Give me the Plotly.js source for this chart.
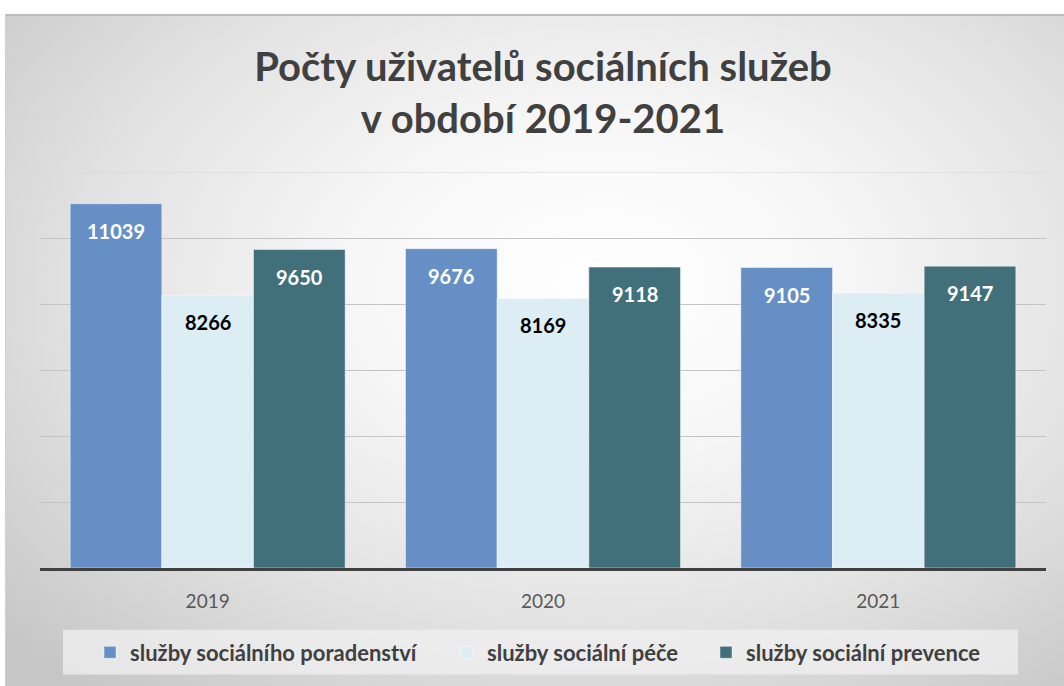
<!DOCTYPE html>
<html>
<head>
<meta charset="utf-8">
<script src="https://cdn.plot.ly/plotly-3.0.1.min.js"></script>
<style>
  html, body { margin:0; padding:0; background:#ffffff; }
  #wrap { position:relative; width:1064px; height:686px; overflow:hidden; }
  #bg { position:absolute; left:5px; top:14px; right:0; bottom:0;
        border-top:2px solid #bdbdbd; border-left:1px solid #cfcfcf;
        background: radial-gradient(ellipse 75% 80% at 56% 40%, #ffffff 0%, #f7f7f7 30%, #e2e2e2 65%, #c6c6c6 100%); }
  #chart { position:absolute; left:0; top:0; width:1064px; height:686px; }
</style>
</head>
<body>
<div id="wrap">
  <div id="bg"></div>
  <div id="chart"></div>
</div>
<script>
const categories = ["2019", "2020", "2021"];
const seriesNames = ["služby sociálního poradenství", "služby sociální péče", "služby sociální prevence"];
const poradenstvi = [11039, 9676, 9105];
const pece = [8266, 8169, 8335];
const prevence = [9650, 9118, 9147];

const seriesValues = [poradenstvi, pece, prevence];
const colors = ["#6690c5", "#dcedf3", "#41707b"];
const labelColors = ["#ffffff", "#000000", "#ffffff"];

const fontFamily = "Lato, 'Open Sans', sans-serif";
const bargap = 0.18;
const plotLeft = 40, plotRight = 18, plotTop = 172, plotBottom = 116;
const plotWidth = 1064 - plotLeft - plotRight;
const plotH = 686 - plotTop - plotBottom;
const barWidthPx = plotWidth / categories.length * (1 - bargap) / seriesValues.length;
const pxX = px => (px - plotLeft) / plotWidth;
const pxY = py => (686 - plotBottom - py) / plotH;

const legendIds = ["legend", "legend2", "legend3"];
const legendLeftPx = [90, 447, 706];

const traces = seriesValues.map((vals, i) => ({
  type: "bar",
  name: seriesNames[i],
  legend: legendIds[i],
  x: categories,
  y: vals,
  marker: { color: colors[i], line: { color: "rgba(255,255,255,0.45)", width: 1 } },
  hoverinfo: "x+y+name"
}));

const annotations = [];
seriesValues.forEach((vals, i) => {
  vals.forEach((v, j) => {
    annotations.push({
      x: j, y: v, xref: "x", yref: "y",
      xshift: (i - 1) * barWidthPx, yshift: -27,
      text: String(v), showarrow: false,
      font: { family: fontFamily, size: 20, color: labelColors[i], weight: "bold" }
    });
  });
});

const layout = {
  width: 1064, height: 686,
  margin: { l: plotLeft, r: plotRight, t: plotTop, b: plotBottom },
  paper_bgcolor: "rgba(0,0,0,0)",
  plot_bgcolor: "rgba(0,0,0,0)",
  barmode: "group",
  bargap: bargap,
  bargroupgap: 0,
  title: {
    text: "<b>Počty uživatelů sociálních služeb<br>v období 2019-2021</b>",
    font: { family: fontFamily, size: 40, color: "#404040" },
    xref: "paper", x: 0.5, xanchor: "center",
    yref: "container", y: 0.882, yanchor: "top"
  },
  xaxis: {
    type: "category",
    categoryarray: categories,
    range: [-0.5, categories.length - 0.5],
    autorange: false,
    showgrid: false,
    showline: true, linecolor: "#404040", linewidth: 3,
    ticks: "",
    tickfont: { family: fontFamily, size: 19, color: "#595959" },
    ticklabelstandoff: 14
  },
  yaxis: {
    range: [0, 12000],
    autorange: false,
    dtick: 2000,
    showticklabels: false,
    showgrid: true, gridcolor: "#c4c4c4", gridwidth: 1,
    zeroline: false, showline: false, ticks: ""
  },
  showlegend: true,
  shapes: [
    {
      type: "rect", xref: "paper", yref: "paper",
      x0: pxX(63), x1: pxX(1018), y0: pxY(677), y1: pxY(632),
      layer: "below", line: { width: 0 }, fillcolor: "rgba(240,240,240,0.75)"
    },
    {
      type: "line", xref: "paper", yref: "y",
      x0: 0, x1: 1, y0: 12000, y1: 12000,
      layer: "below", line: { color: "#d6d6d6", width: 1 }
    }
  ],
  annotations: annotations
};

legendIds.forEach((id, i) => {
  layout[id] = {
    orientation: "h",
    x: pxX(legendLeftPx[i]), xanchor: "left", xref: "paper",
    y: pxY(655), yanchor: "middle", yref: "paper",
    bgcolor: "rgba(0,0,0,0)",
    borderwidth: 0,
    font: { family: fontFamily, size: 22, color: "#404040", weight: "bold" },
    itemclick: false, itemdoubleclick: false
  };
});

Plotly.newPlot("chart", traces, layout, { displayModeBar: false, staticPlot: true });
</script>
</body>
</html>
